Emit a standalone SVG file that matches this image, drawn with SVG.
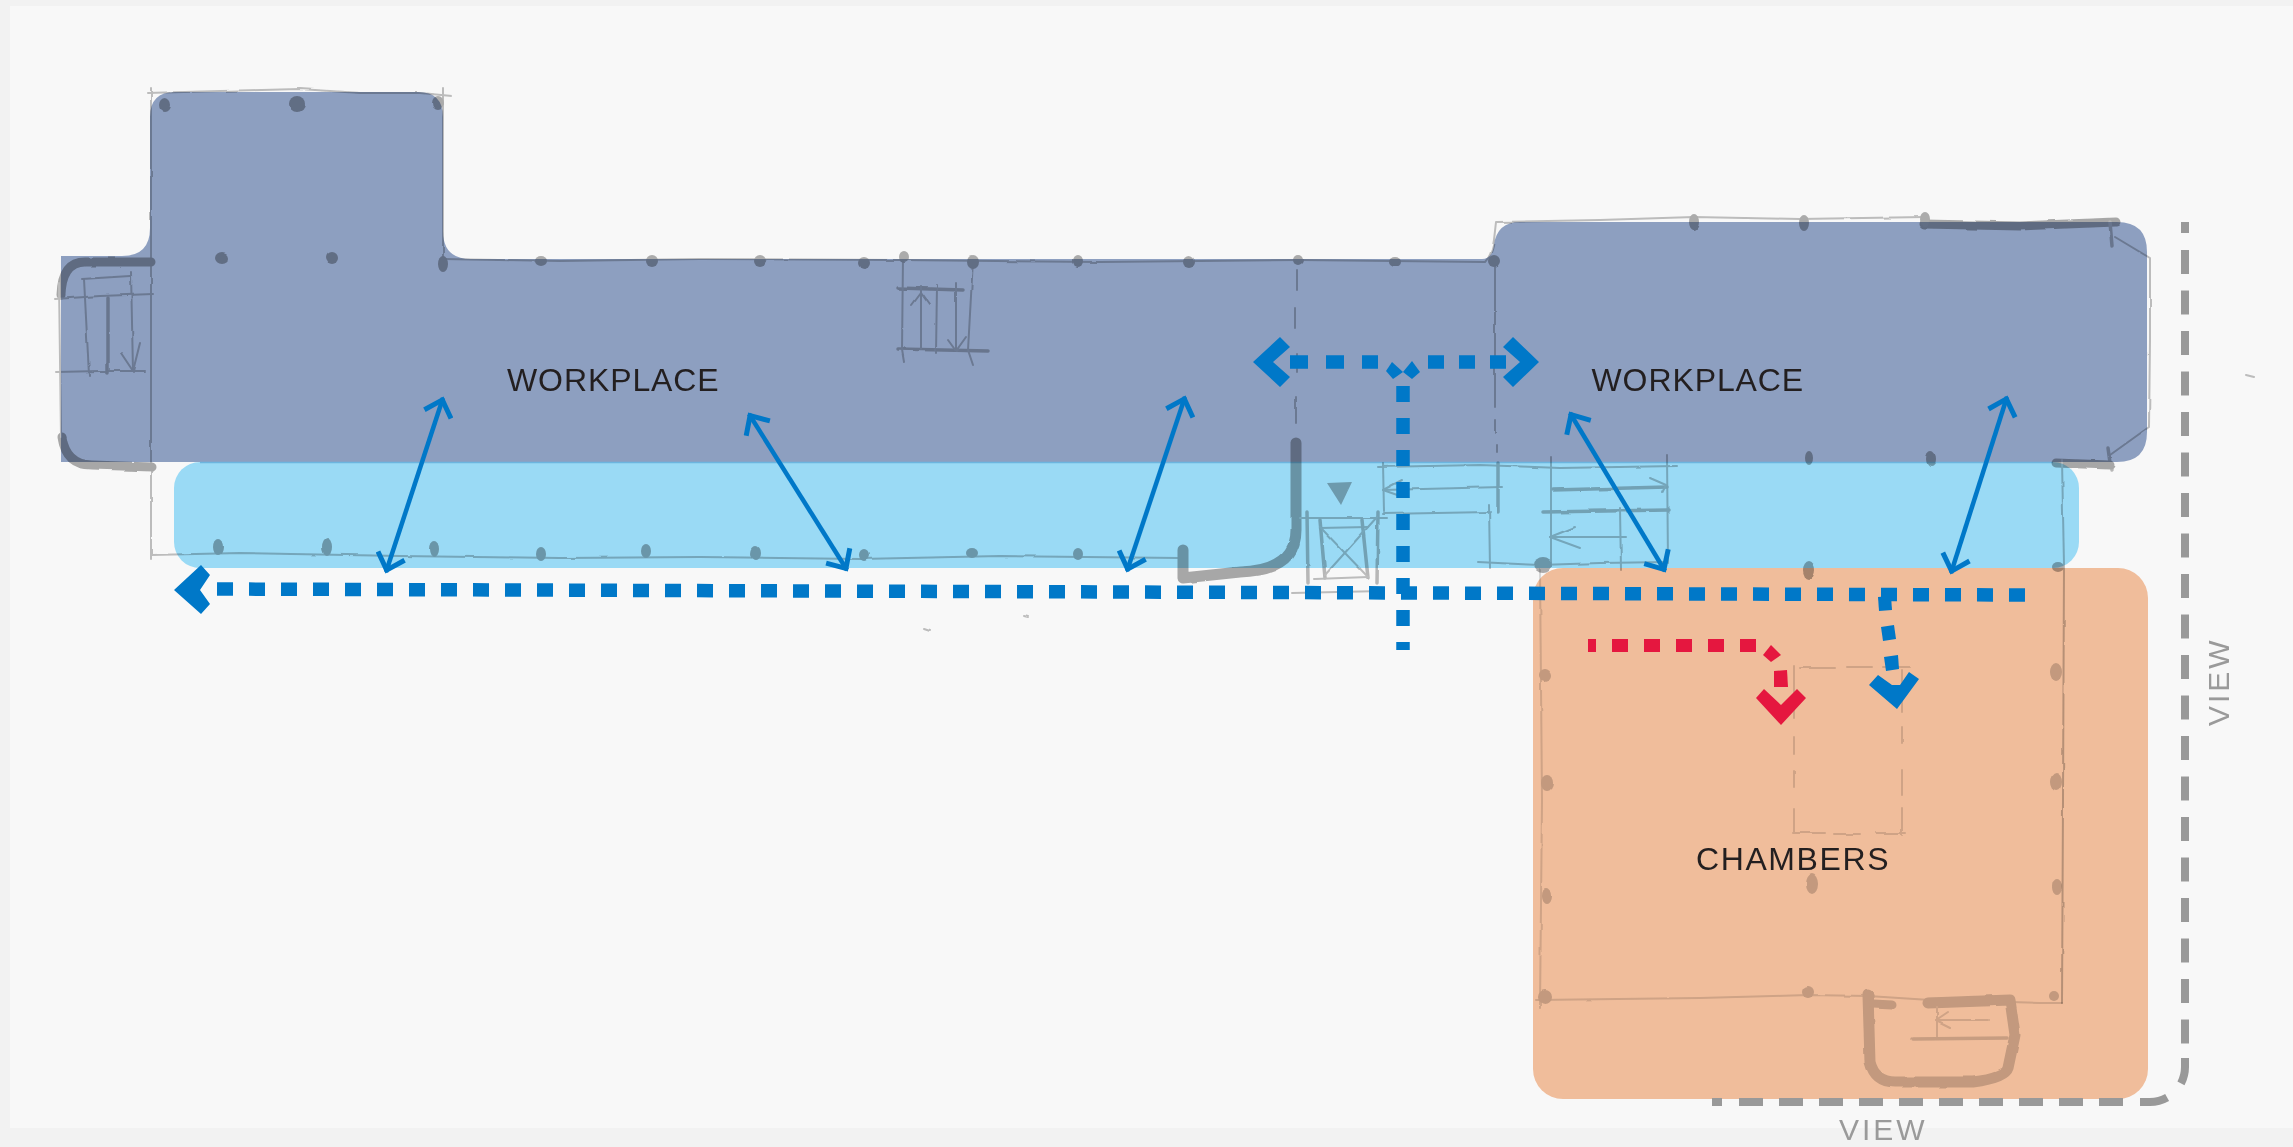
<svg xmlns="http://www.w3.org/2000/svg" width="2293" height="1147" viewBox="0 0 2293 1147">
<style>
text{font-family:"Liberation Sans",Arial,sans-serif;font-size:32px;fill:#231f20}
.v{fill:#9a9a9a;font-size:30px;letter-spacing:3px}
.sk{mix-blend-mode:multiply}
.sk path{fill:none;stroke:#c2c2c2;stroke-width:2;stroke-linecap:round;stroke-linejoin:round}
.sk .m{stroke-width:3.5;stroke:#bcbcbc}
.sk .h{stroke-width:9;stroke:#acacac}
.sk .h2{stroke-width:11;stroke:#acacac}
.sk ellipse{fill:#b0b0b0}
.sk .tri{fill:#b4b4b4;stroke:none}
.o path{stroke:#dcdcdc}
.o .m{stroke:#d4d4d4}
.o .h{stroke:#cfcfcf}
.o .h2{stroke:#cfcfcf}
.o ellipse{fill:#cfcfcf}
.d{fill:none;stroke:#0078c8;stroke-width:13.500}
.r{fill:none;stroke:#e5173f;stroke-width:13}
.ar{fill:none;stroke:#0078c8;stroke-width:4.500;marker-start:url(#ah);marker-end:url(#ah)}
.b{fill:#0078c8}
.rd{fill:#e5173f}
.g{fill:none;stroke:#999;stroke-width:8}
</style>
<defs>
<marker id="ah" markerUnits="userSpaceOnUse" viewBox="-22 -16 26 32" markerWidth="26" markerHeight="32" refX="0" refY="0" orient="auto-start-reverse">
<path d="M-17,-14 L-2,0 L-17,14" fill="none" stroke="#0078c8" stroke-width="5"/>
</marker>
<filter id="wob" x="-2%" y="-2%" width="104%" height="104%" color-interpolation-filters="sRGB">
<feTurbulence type="fractalNoise" baseFrequency="0.05" numOctaves="2" seed="4" result="n"/>
<feDisplacementMap in="SourceGraphic" in2="n" scale="2.500" xChannelSelector="R" yChannelSelector="G"/>
</filter>
</defs>
<rect width="2293" height="1147" fill="#f2f2f2"/>
<rect x="10" y="6" width="2283" height="1122" fill="#f8f8f8"/>

<g id="node-workplace">
<path fill="#8d9fc0" d="M61,256 H122 Q150,256 150,228 V117 Q150,92 175,92 H418 Q443,92 443,117 V231 Q443,259 471,259 H1482 Q1492,259 1494,245 Q1497,222 1520,222 H2117 Q2147,222 2147,252 V432 Q2147,462 2117,462 H61 Z"/>
<text x="507" y="390.500" letter-spacing="0.900">WORKPLACE</text>
<text x="1591.500" y="390.500" letter-spacing="0.900">WORKPLACE</text>
</g>
<g id="node-circulation">
<rect x="174" y="462" width="1905" height="106" rx="26" fill="#9adaf5"/>
<path d="M200,462.500 H2053" stroke="#6cb5df" stroke-width="1.500" fill="none"/>
</g>
<g id="node-chambers">
<rect x="1533" y="568" width="615" height="531" rx="30" fill="#f0bd9b"/>
<text x="1696" y="870" letter-spacing="1.600">CHAMBERS</text>
</g>

<g id="sketch" class="sk" filter="url(#wob)">
<path d="M147,93 L220,91 L300,89 L360,93 L420,93 L452,96"/>
<path d="M151,88 V480 V559"/>
<path d="M443,88 V259"/>
<path d="M443,259 L560,261 L700,259 L900,260 L1100,262 L1300,260 L1485,262 Q1492,255 1494,240 L1496,222 L1600,220 L1694,217 L1800,219 L1925,217"/>
<path d="M151,555 L240,553 L400,556 L560,558 L700,557 L860,559 L1000,556 L1180,558"/>
<path d="M2115,237 L2150,258 L2150,340 L2149,427 L2110,455"/>
<path class="h" d="M1924,224 L2020,226 L2116,222"/>
<path class="m" d="M2110,222 L2112,246"/>
<path class="m" d="M2108,448 L2111,470"/>
<path class="h" d="M2056,463 L2110,465"/>
<path d="M2062,460 L2064,565 L2063,800 L2062,1003"/>
<path class="h" d="M61,295 Q62,262 85,262 L151,262"/>
<path class="h" d="M62,437 Q66,465 92,465 L152,467"/>
<path d="M59,283 L61,437"/>
<path d="M55,299 L100,296 L153,294"/>
<path d="M56,372 L100,371 L145,371"/>
<path d="M82,279 L130,276"/>
<path d="M84,279 L89,375"/>
<path class="m" d="M108,298 L108,373"/>
<path d="M131,272 L133,372"/>
<path d="M121,353 L133,371 L140,343"/>
<path class="m" d="M898,288 L963,290"/>
<path class="m" d="M898,349 L988,351"/>
<path d="M903,257 L902,350 L904,362"/>
<path d="M921,287 L921,350"/>
<path d="M937,285 L936,353"/>
<path d="M956,283 L956,351"/>
<path d="M973,260 L968,350 L973,365"/>
<path d="M912,305 L921,293 L929,304"/>
<path d="M948,340 L956,351 L966,337"/>
<path d="M1297,270 V290 M1295,308 V328 M1297,353 V372 M1296,397 V423"/>
<path d="M1495,262 V407 M1495,420 V433 M1497,445 V452"/>
<path class="h2" d="M1296,443 V530 Q1296,570 1240,572 L1183,578 V550"/>
<path class="tri" d="M1327,483 L1352,482 L1341,505 Z"/>
<path d="M1300,518 L1387,518"/>
<path d="M1320,528 L1368,527"/>
<path class="m" d="M1307,512 L1308,583"/>
<path class="m" d="M1320,520 L1325,578"/>
<path class="m" d="M1362,520 L1368,578"/>
<path class="m" d="M1378,512 L1377,583"/>
<path d="M1320,527 L1368,577"/>
<path d="M1377,517 L1325,575"/>
<path d="M1315,579 L1368,577"/>
<path d="M1292,593 L1383,591"/>
<path d="M1378,467 L1480,465 L1560,468 L1677,466"/>
<path d="M1383,463 L1384,512"/>
<path d="M1402,480 L1383,490 L1403,497"/>
<path d="M1383,490 L1502,487"/>
<path class="m" d="M1498,463 L1498,512"/>
<path d="M1383,514 L1490,512"/>
<path d="M1489,505 L1490,568"/>
<path d="M1478,562 L1540,565 L1600,563 L1667,562"/>
<path d="M1551,457 L1551,567"/>
<path d="M1667,455 L1668,563"/>
<path class="m" d="M1553,490 L1667,487"/>
<path d="M1650,478 L1666,485 L1662,493"/>
<path class="m" d="M1543,512 L1668,510"/>
<path d="M1620,508 L1621,570"/>
<path d="M1575,527 L1550,537 L1580,548"/>
<path d="M1550,537 L1626,537"/>
<path d="M924,628 L930,630 M1024,616 L1028,617 M2246,375 L2254,377"/>
<ellipse cx="165" cy="105" rx="6" ry="7"/><ellipse cx="297" cy="104" rx="8" ry="8"/><ellipse cx="438" cy="103" rx="6" ry="7"/>
<ellipse cx="222" cy="258" rx="7" ry="6"/><ellipse cx="332" cy="258" rx="6" ry="6"/><ellipse cx="443" cy="264" rx="5" ry="8"/>
<ellipse cx="541" cy="261" rx="6" ry="5"/><ellipse cx="652" cy="261" rx="6" ry="6"/><ellipse cx="760" cy="261" rx="6" ry="6"/>
<ellipse cx="864" cy="263" rx="6" ry="6"/><ellipse cx="904" cy="257" rx="5" ry="6"/><ellipse cx="973" cy="262" rx="6" ry="7"/>
<ellipse cx="1078" cy="261" rx="5" ry="6"/><ellipse cx="1189" cy="262" rx="6" ry="6"/><ellipse cx="1298" cy="260" rx="5" ry="5"/>
<ellipse cx="1395" cy="262" rx="6" ry="5"/><ellipse cx="1494" cy="261" rx="6" ry="6"/>
<ellipse cx="1694" cy="222" rx="5" ry="8"/><ellipse cx="1804" cy="223" rx="5" ry="8"/><ellipse cx="1925" cy="219" rx="5" ry="7"/>
<ellipse cx="1809" cy="458" rx="4" ry="7"/><ellipse cx="1931" cy="459" rx="5" ry="8"/>
<ellipse cx="218" cy="547" rx="5" ry="8"/><ellipse cx="327" cy="547" rx="5" ry="9"/><ellipse cx="434" cy="549" rx="5" ry="8"/>
<ellipse cx="541" cy="554" rx="5" ry="7"/><ellipse cx="646" cy="551" rx="5" ry="7"/><ellipse cx="756" cy="553" rx="5" ry="7"/>
<ellipse cx="864" cy="555" rx="5" ry="6"/><ellipse cx="972" cy="553" rx="6" ry="5"/><ellipse cx="1078" cy="554" rx="5" ry="6"/>
<ellipse cx="1543" cy="565" rx="9" ry="8"/><ellipse cx="1809" cy="570" rx="6" ry="9"/><ellipse cx="2058" cy="567" rx="6" ry="5"/>
</g>

<g id="sketch-chambers" class="sk o" filter="url(#wob)">
<path d="M1540,570 L1542,800 L1540,1008"/>
<path d="M1536,1000 L1700,998 L1808,995 L1868,996 L1930,1000"/>
<path d="M2010,1002 L2040,1003 L2062,1003"/>
<path d="M1800,668 H1835 M1847,667 H1873 M1883,667 H1910"/>
<path d="M1794,666 V718 M1794,738 V755 M1794,772 V787 M1794,808 V833"/>
<path d="M1793,833 H1825 M1834,834 H1860 M1876,833 H1905"/>
<path d="M1902,670 V713 M1902,727 V743 M1902,770 V795 M1902,808 V835"/>
<path class="h2" d="M1868,995 L1870,1062 Q1875,1082 1895,1082 L1973,1082 Q2005,1078 2008,1068 L2015,1035 L2010,1000 L1928,1003"/>
<path class="h" d="M1873,1004 L1892,1005"/>
<path d="M1937,1007 L1937,1038"/>
<path d="M1948,1012 L1936,1020 L1950,1027"/>
<path d="M1936,1020 L1988,1020"/>
<path class="m" d="M1913,1039 L2007,1038"/>
<ellipse cx="1545" cy="675" rx="6" ry="6"/><ellipse cx="1547" cy="783" rx="6" ry="8"/><ellipse cx="1547" cy="896" rx="5" ry="8"/>
<ellipse cx="1545" cy="997" rx="7" ry="7"/><ellipse cx="1808" cy="992" rx="6" ry="6"/><ellipse cx="2054" cy="996" rx="5" ry="5"/>
<ellipse cx="2056" cy="672" rx="6" ry="9"/><ellipse cx="2056" cy="782" rx="6" ry="9"/><ellipse cx="2057" cy="887" rx="5" ry="8"/>
<ellipse cx="1812" cy="884" rx="6" ry="10"/>
</g>

<g id="connectors">
<path class="ar" d="M443,398 L386,572"/>
<path class="ar" d="M749,414 L847,570"/>
<path class="ar" d="M1185,397 L1127,571"/>
<path class="ar" d="M1570,413 L1665,571"/>
<path class="ar" d="M2007,397 L1951,573"/>

<path class="d" stroke-dasharray="16 16" d="M2025,595 L216,589"/>
<polygon class="b" points="174,590 201,565 210,575 200,590 210,604 201,614"/>

<path class="d" stroke-dasharray="16 16" d="M1403,386 V650"/>
<path class="d" stroke-dasharray="18 18" d="M1290,362 H1378"/>
<path class="d" stroke-dasharray="16 15" d="M1506,362 H1428"/>
<polygon class="b" points="1392,362 1403,372 1393,379 1386,371"/>
<polygon class="b" points="1412,361 1420,372 1412,379 1403,372"/>
<polygon class="b" points="1253,362 1280,337 1290,347 1273,362 1290,377 1280,387"/>
<polygon class="b" points="1539,362 1513,337 1503,347 1520,362 1503,377 1513,387"/>

<polygon class="b" points="1878,597 1891,596 1892,610 1879,611"/>
<polygon class="b" points="1881,627 1894,625 1896,639 1883,641"/>
<polygon class="b" points="1884,657 1898,655 1899,669 1886,671"/>
<polygon class="b" points="1897,709 1869,685 1878,675 1892,685 1900,685 1909,672 1919,679"/>

<path class="r" stroke-dasharray="16 16" stroke-dashoffset="8" d="M1588,645.500 H1756"/>
<polygon class="rd" points="1771,645 1781,655 1771,662 1763,655"/>
<polygon class="rd" points="1774,671 1787,670 1788,687 1774,687"/>
<polygon class="rd" points="1781,725 1756,698 1764,689 1781,705 1797,689 1806,698"/>

<path class="g" stroke-dasharray="24 16.500" d="M2185,250 V1045"/>
<path class="g" d="M2185,222 V233"/>
<path class="g" stroke-dasharray="26 20 30 100" d="M2185,1058 V1067 A35,35 0 0 1 2150,1102 H2140"/>
<path class="g" stroke-dasharray="24 16" d="M1739,1102 H2125"/>
<path class="g" d="M1712,1102 H1722"/>
</g>

<text class="v" x="1839" y="1140">VIEW</text>
<text class="v" transform="translate(2229,726) rotate(-90)">VIEW</text>
</svg>
